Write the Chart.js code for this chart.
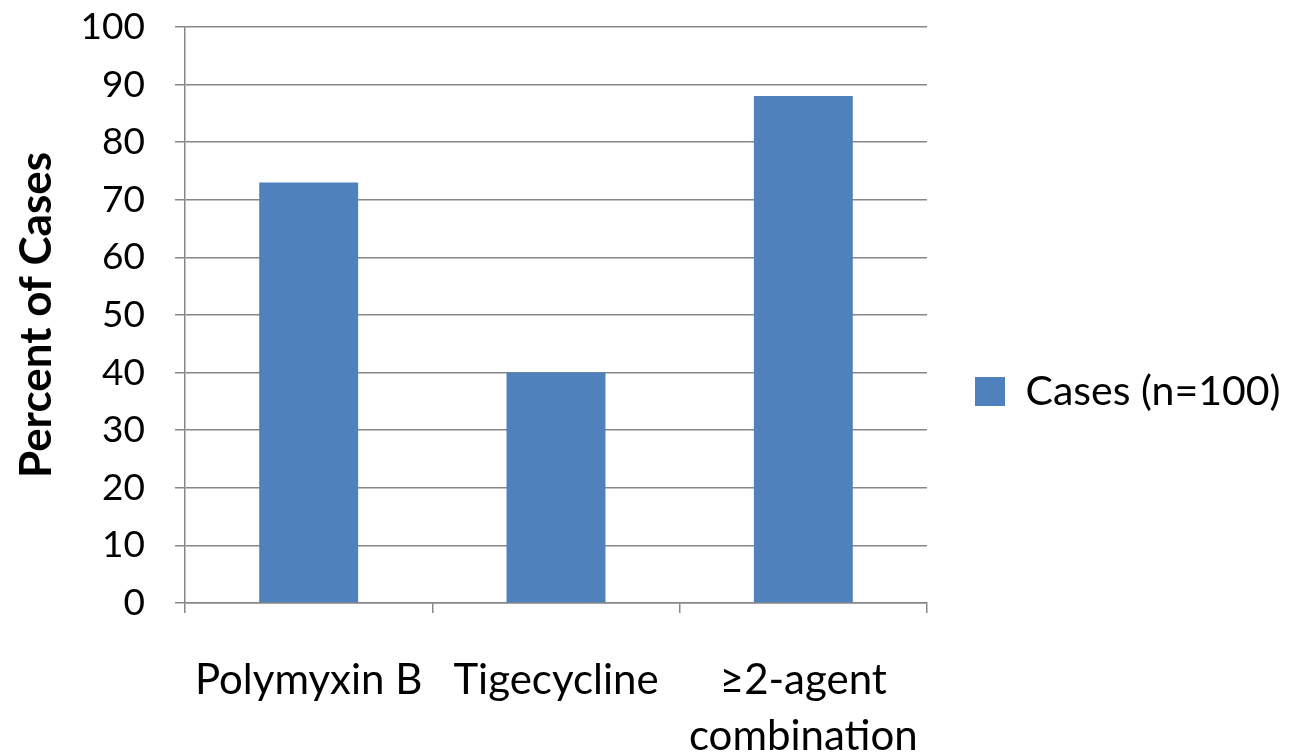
<!DOCTYPE html>
<html>
<head>
<meta charset="utf-8">
<script src="https://cdn.jsdelivr.net/npm/chart.js@4.4.1/dist/chart.umd.min.js"></script>
<style>
  html, body { margin: 0; padding: 0; background: #ffffff; }
  #wrap { width: 1289px; height: 756px; }
</style>
</head>
<body>
<div id="wrap"><canvas id="chart" width="1289" height="756"></canvas></div>
<script>
// Treatment regimens and the share of cases receiving each
const categories = ['Polymyxin B', 'Tigecycline', ['\u22652-agent', 'combination']];
const seriesName = 'Cases (n=100)';
const percentOfCases = [73, 40, 88];
const yTicks = { min: 0, max: 100, step: 10 };

const FONT = 'Lato, "Open Sans", sans-serif';
const BAR = '#4f81bd';
const GRID = '#878787';

// Give the legend a fixed slot on the right-hand side
const legendSlot = {
  id: 'legendSlot',
  afterInit(chart) {
    const lg = chart.legend;
    if (!lg) return;
    const fit = lg.fit.bind(lg);
    lg.fit = function () { fit(); this.width = 362; };
  }
};

new Chart(document.getElementById('chart'), {
  type: 'bar',
  data: {
    labels: categories,
    datasets: [{
      label: seriesName,
      data: percentOfCases,
      backgroundColor: BAR,
      borderWidth: 0,
      barPercentage: 0.4,
      categoryPercentage: 1.0
    }]
  },
  plugins: [legendSlot],
  options: {
    responsive: false,
    animation: false,
    layout: { padding: { top: 27, right: 0, bottom: 0, left: 0 } },
    plugins: {
      tooltip: { enabled: false },
      legend: {
        position: 'right',
        align: 'center',
        labels: {
          color: '#000000',
          font: { family: FONT, size: 41 },
          boxWidth: 30,
          boxHeight: 29,
          padding: 48
        }
      }
    },
    scales: {
      x: {
        afterFit(scale) { scale.height = 153; },
        grid: {
          offset: true,
          drawOnChartArea: false,
          drawTicks: true,
          tickLength: 10,
          color: GRID,
          lineWidth: 1.5
        },
        border: { display: true, color: GRID, width: 1.5 },
        ticks: {
          color: '#000000',
          font: { family: FONT, size: 42, lineHeight: 1.33 },
          padding: 40,
          maxRotation: 0,
          autoSkip: false
        }
      },
      y: {
        min: yTicks.min,
        max: yTicks.max,
        afterFit(scale) {
          scale.width = 185;
          scale.paddingTop = 0;
          scale.paddingBottom = 0;
        },
        grid: {
          color: GRID,
          lineWidth: 1.5,
          drawTicks: true,
          tickLength: 10
        },
        border: { display: true, color: GRID, width: 1.5 },
        ticks: {
          stepSize: yTicks.step,
          color: '#000000',
          font: { family: FONT, size: 37 },
          padding: 30
        },
        title: {
          display: true,
          text: 'Percent of Cases',
          color: '#000000',
          font: { family: FONT, size: 44, weight: 'bold' },
          padding: { top: 10, bottom: 0 }
        }
      }
    }
  }
});
</script>
</body>
</html>
